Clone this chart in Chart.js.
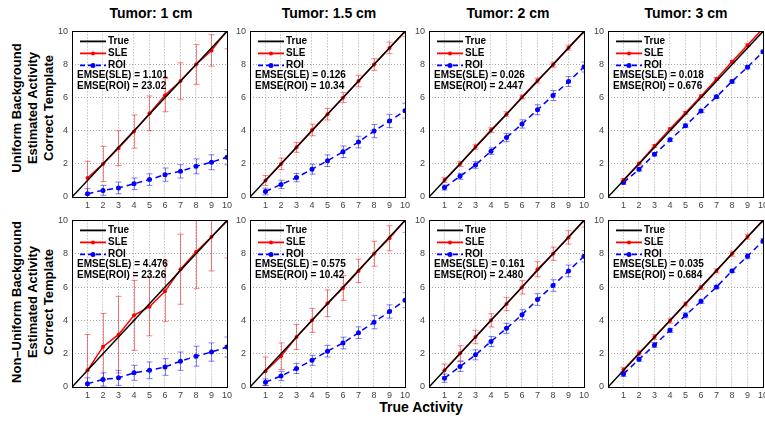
<!DOCTYPE html>
<html>
<head>
<meta charset="utf-8">
<script src="https://cdn.jsdelivr.net/npm/chart.js@4"></script>
<style>
  body { margin: 0; background: #fff; }
  #wrap { position: relative; width: 765px; height: 422px; overflow: hidden; font-family: "Liberation Sans", Arial, sans-serif; }
  canvas { position: absolute; }
  .title { position: absolute; transform: translate(-50%, -50%); font-weight: bold; font-size: 14px; white-space: nowrap; }
  .rowlab { position: absolute; transform: translate(-50%, -50%) rotate(-90deg); font-weight: bold; font-size: 13px; line-height: 16px; text-align: center; white-space: nowrap; }
</style>
</head>
<body>
<div id="wrap">
  <div class="title" style="left:151px;top:13px">Tumor: 1 cm</div>
  <div class="title" style="left:329px;top:13px">Tumor: 1.5 cm</div>
  <div class="title" style="left:508px;top:13px">Tumor: 2 cm</div>
  <div class="title" style="left:686px;top:13px">Tumor: 3 cm</div>
  <div class="rowlab" style="left:33px;top:108px">Uniform Background<br>Estimated Activity<br>Correct Template</div>
  <div class="rowlab" style="left:33px;top:302px">Non–Uniform Background<br>Estimated Activity<br>Correct Template</div>
  <div class="title" style="left:421px;top:407px">True Activity</div>
</div>
<script>
// x values shared by every panel
const activity = [1, 2, 3, 4, 5, 6, 7, 8, 9, 10];
const truthX = [0, 10];

// uniform background, 1 / 1.5 / 2 / 3 cm
const sleU10 = [1.15, 2.0, 2.95, 3.95, 5.05, 6.15, 7.0, 8.0, 8.85, 10.05];
const sleErrU10 = [1.0, 1.06, 1.05, 1.0, 1.05, 1.0, 1.1, 1.2, 0.95, 1.1];
const roiU10 = [0.2, 0.4, 0.55, 0.8, 1.05, 1.35, 1.55, 1.85, 2.1, 2.4];
const roiErrU10 = [0.3, 0.3, 0.35, 0.35, 0.35, 0.4, 0.4, 0.45, 0.45, 0.45];

const sleU15 = [1.0, 2.0, 3.0, 4.05, 5.0, 6.0, 7.0, 8.0, 9.0, 10.0];
const sleErrU15 = [0.3, 0.35, 0.3, 0.35, 0.35, 0.3, 0.35, 0.35, 0.35, 0.3];
const roiU15 = [0.33, 0.76, 1.17, 1.68, 2.19, 2.73, 3.32, 3.98, 4.59, 5.21];
const roiErrU15 = [0.2, 0.25, 0.25, 0.3, 0.35, 0.35, 0.35, 0.4, 0.4, 0.45];

const sleU20 = [1.02, 1.99, 3.03, 4.04, 5.0, 6.04, 7.03, 7.99, 9.02, 10.0];
const sleErrU20 = [0.15, 0.15, 0.15, 0.15, 0.15, 0.12, 0.15, 0.15, 0.15, 0.15];
const roiU20 = [0.57, 1.25, 1.93, 2.77, 3.59, 4.41, 5.27, 6.13, 6.97, 7.85];
const roiErrU20 = [0.15, 0.18, 0.2, 0.2, 0.25, 0.25, 0.3, 0.3, 0.3, 0.3];

const sleU30 = [1.03, 2.02, 3.08, 4.1, 5.08, 6.09, 7.12, 8.17, 9.17, 10.18];
const sleErrU30 = [0.08, 0.08, 0.08, 0.08, 0.08, 0.08, 0.08, 0.08, 0.08, 0.08];
const roiU30 = [0.87, 1.67, 2.58, 3.45, 4.31, 5.2, 6.05, 6.98, 7.84, 8.77];
const roiErrU30 = [0.1, 0.1, 0.1, 0.1, 0.1, 0.1, 0.1, 0.1, 0.1, 0.1];

// non-uniform background
const sleN10 = [1.0, 2.42, 3.14, 4.3, 4.82, 5.74, 7.07, 8.1, 9.02, 9.95];
const sleErrN10 = [2.15, 2.0, 2.3, 2.1, 1.75, 1.8, 2.1, 2.2, 2.05, 2.2];
const roiN10 = [0.2, 0.45, 0.55, 0.85, 1.0, 1.2, 1.55, 1.85, 2.1, 2.4];
const roiErrN10 = [0.35, 0.4, 0.45, 0.45, 0.5, 0.5, 0.55, 0.6, 0.55, 0.6];

const sleN15 = [0.95, 1.85, 3.0, 4.0, 5.02, 5.94, 6.97, 8.0, 8.93, 10.0];
const sleErrN15 = [0.85, 0.8, 0.75, 0.72, 0.8, 0.74, 0.7, 0.75, 0.75, 0.72];
const roiN15 = [0.29, 0.66, 1.11, 1.6, 2.15, 2.64, 3.26, 3.89, 4.53, 5.21];
const roiErrN15 = [0.2, 0.28, 0.3, 0.3, 0.35, 0.35, 0.35, 0.4, 0.4, 0.45];

const sleN20 = [1.0, 2.03, 3.0, 4.0, 4.98, 5.98, 7.07, 8.0, 8.98, 10.0];
const sleErrN20 = [0.38, 0.45, 0.4, 0.4, 0.4, 0.4, 0.45, 0.4, 0.4, 0.4];
const roiN20 = [0.53, 1.23, 1.93, 2.73, 3.52, 4.34, 5.25, 6.09, 6.97, 7.85];
const roiErrN20 = [0.25, 0.3, 0.3, 0.3, 0.3, 0.3, 0.35, 0.35, 0.35, 0.35];

const sleN30 = [1.03, 2.03, 3.0, 3.98, 4.98, 5.98, 6.97, 8.0, 9.02, 10.0];
const sleErrN30 = [0.15, 0.15, 0.15, 0.15, 0.12, 0.12, 0.12, 0.15, 0.15, 0.15];
const roiN30 = [0.78, 1.66, 2.52, 3.4, 4.3, 5.14, 6.0, 6.97, 7.85, 8.77];
const roiErrN30 = [0.15, 0.12, 0.15, 0.12, 0.15, 0.12, 0.1, 0.1, 0.15, 0.15];

const emseSle = ['1.101', '0.126', '0.026', '0.018', '4.476', '0.575', '0.161', '0.035'];
const emseRoi = ['23.02', '10.34', '2.447', '0.676', '23.26', '10.42', '2.480', '0.684'];

const yTicks = [0, 2, 4, 6, 8, 10];

// layout (plot areas)
const colLeft = [72, 250, 429, 608];
const rowTop = [28, 217];
const plotW = 157;
const plotH = [169, 170];
const AXIS_W = 24, AXIS_H = 16, PAD_T = 6, PAD_R = 6;

const RED = '#ff0000';
const BLUE = '#0000ff';
const GRID = '#a8a8a8';

Chart.defaults.font.family = '"Liberation Sans", Arial, sans-serif';

const panels = [
    [sleU10, sleErrU10, roiU10, roiErrU10],
    [sleU15, sleErrU15, roiU15, roiErrU15],
    [sleU20, sleErrU20, roiU20, roiErrU20],
    [sleU30, sleErrU30, roiU30, roiErrU30],
    [sleN10, sleErrN10, roiN10, roiErrN10],
    [sleN15, sleErrN15, roiN15, roiErrN15],
    [sleN20, sleErrN20, roiN20, roiErrN20],
    [sleN30, sleErrN30, roiN30, roiErrN30]
];

function drawErrorBars(chart, values, errs, color) {
    const { ctx, chartArea, scales } = chart;
    ctx.save();
    ctx.beginPath();
    ctx.rect(chartArea.left, chartArea.top, chartArea.right - chartArea.left, chartArea.bottom - chartArea.top);
    ctx.clip();
    ctx.strokeStyle = color;
    ctx.lineWidth = 1;
    activity.forEach((x, i) => {
        const px = Math.round(scales.x.getPixelForValue(x)) + 0.5;
        const top = scales.y.getPixelForValue(values[i] + errs[i]);
        const bot = scales.y.getPixelForValue(values[i] - errs[i]);
        ctx.beginPath();
        ctx.moveTo(px, top); ctx.lineTo(px, bot);
        ctx.moveTo(px - 3, top); ctx.lineTo(px + 3, top);
        ctx.moveTo(px - 3, bot); ctx.lineTo(px + 3, bot);
        ctx.stroke();
    });
    ctx.restore();
}

function drawLegend(chart, idx) {
    const { ctx, chartArea } = chart;
    const l = chartArea.left, t = chartArea.top;
    ctx.save();
    ctx.font = 'bold 10px "Liberation Sans", Arial, sans-serif';
    ctx.textBaseline = 'middle';
    ctx.fillStyle = '#000';
    const rows = [
        { label: 'True', color: '#000', dash: [], dot: 0 },
        { label: 'SLE', color: RED, dash: [], dot: 2 },
        { label: 'ROI', color: BLUE, dash: [5, 3], dot: 2.5 }
    ];
    rows.forEach((r, i) => {
        const y = t + 10 + 12 * i;
        ctx.strokeStyle = r.color;
        ctx.lineWidth = 1.8;
        ctx.setLineDash(r.dash);
        ctx.beginPath();
        ctx.moveTo(l + 8, y); ctx.lineTo(l + 34, y);
        ctx.stroke();
        ctx.setLineDash([]);
        if (r.dot) {
            ctx.fillStyle = r.color;
            ctx.beginPath();
            ctx.arc(l + 21, y, r.dot, 0, Math.PI * 2);
            ctx.fill();
        }
        ctx.fillStyle = '#000';
        ctx.fillText(r.label, l + 36, y);
    });
    ctx.fillText('EMSE(SLE) = ' + emseSle[idx], l + 5, t + 44);
    ctx.fillText('EMSE(ROI) = ' + emseRoi[idx], l + 5, t + 55);
    ctx.restore();
}

panels.forEach((p, idx) => {
    const [sle, sleErr, roi, roiErr] = p;
    const col = idx % 4, row = Math.floor(idx / 4);
    const canvas = document.createElement('canvas');
    const w = plotW + AXIS_W + PAD_R;
    const h = plotH[row] + PAD_T + AXIS_H;
    canvas.width = w; canvas.height = h;
    canvas.style.left = (colLeft[col] - AXIS_W) + 'px';
    canvas.style.top = (rowTop[row] - PAD_T) + 'px';
    canvas.style.width = w + 'px'; canvas.style.height = h + 'px';
    document.getElementById('wrap').appendChild(canvas);

    const gridColor = c => (c.tick && (c.tick.value === 0 || c.tick.value === 10)) ? 'rgba(0,0,0,0)' : GRID;

    new Chart(canvas, {
        type: 'line',
        data: {
            datasets: [
                {
                    label: 'True',
                    data: truthX.map(x => ({ x: x, y: x })),
                    borderColor: '#000', borderWidth: 1.5,
                    pointRadius: 0
                },
                {
                    label: 'SLE',
                    data: activity.map((x, i) => ({ x: x, y: sle[i] })),
                    borderColor: RED, backgroundColor: RED, borderWidth: 1.5,
                    pointRadius: 2, pointBorderWidth: 0
                },
                {
                    label: 'ROI',
                    data: activity.map((x, i) => ({ x: x, y: roi[i] })),
                    borderColor: BLUE, backgroundColor: BLUE, borderWidth: 1.5,
                    borderDash: [6, 4],
                    pointRadius: 2.5, pointBorderWidth: 0
                }
            ]
        },
        options: {
            responsive: false,
            animation: false,
            devicePixelRatio: 1,
            layout: { padding: { top: PAD_T, right: PAD_R, left: 0, bottom: 0 } },
            plugins: { legend: { display: false }, tooltip: { enabled: false } },
            scales: {
                x: {
                    type: 'linear', min: 0, max: 10,
                    afterFit: s => { s.height = AXIS_H; },
                    afterBuildTicks: s => { s.ticks = [0].concat(activity).map(v => ({ value: v })); },
                    ticks: {
                        padding: 3, color: '#444', font: { size: 9 },
                        maxRotation: 0, autoSkip: false,
                        callback: v => (v === 0 ? '' : String(v))
                    },
                    grid: { drawTicks: false, color: gridColor, lineWidth: 1 },
                    border: { display: false, dash: [1, 2] }
                },
                y: {
                    min: 0, max: 10,
                    afterFit: s => { s.width = AXIS_W; },
                    afterBuildTicks: s => { s.ticks = yTicks.map(v => ({ value: v })); },
                    ticks: { padding: 4, color: '#444', font: { size: 9 } },
                    grid: { drawTicks: false, color: gridColor, lineWidth: 1 },
                    border: { display: false, dash: [1, 2] }
                }
            }
        },
        plugins: [{
            id: 'panelDeco',
            beforeDatasetsDraw(chart) {
                drawErrorBars(chart, sle, sleErr, 'rgba(255,0,0,0.5)');
                drawErrorBars(chart, roi, roiErr, 'rgba(0,0,255,0.5)');
            },
            afterDatasetsDraw(chart) {
                const { ctx, chartArea } = chart;
                ctx.save();
                ctx.strokeStyle = '#000';
                ctx.lineWidth = 1;
                ctx.strokeRect(Math.round(chartArea.left) + 0.5, Math.round(chartArea.top) + 0.5,
                    Math.round(chartArea.right - chartArea.left), Math.round(chartArea.bottom - chartArea.top));
                ctx.restore();
                drawLegend(chart, idx);
            }
        }]
    });
});
</script>
</body>
</html>
